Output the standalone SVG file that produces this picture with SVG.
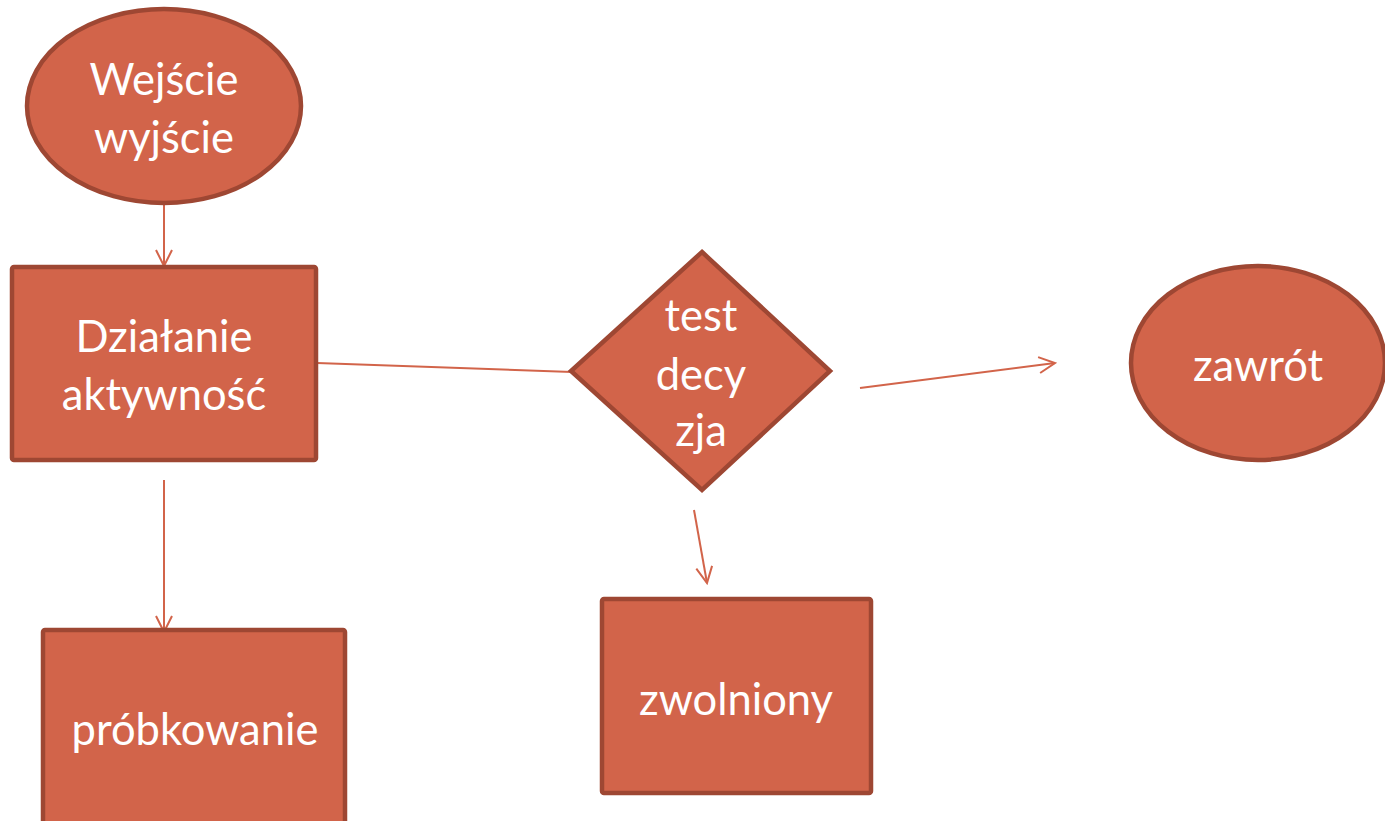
<svg xmlns="http://www.w3.org/2000/svg" width="1385" height="821" viewBox="0 0 1385 821">
<style>
.shape{fill:#d2644a;stroke:#9e4733;stroke-width:4.5}
.lbl{font-family:Lato,"Open Sans",sans-serif;font-size:43.5px;fill:#ffffff;text-anchor:middle}
.conn{stroke:#d2644a;stroke-width:2;fill:none}
</style>
<defs>
<marker id="arr" viewBox="0 0 20 20" refX="18" refY="10" markerWidth="20" markerHeight="20" markerUnits="userSpaceOnUse" orient="auto">
<path d="M2,2 L18,10 L2,18" fill="none" stroke="#d2644a" stroke-width="2"/>
</marker>
</defs>
<rect width="1385" height="821" fill="#ffffff"/>
<g id="connectors">
<line class="conn" x1="164" y1="204" x2="164" y2="266" marker-end="url(#arr)"/>
<line class="conn" x1="164" y1="480" x2="164" y2="632" marker-end="url(#arr)"/>
<line class="conn" x1="317" y1="363" x2="572" y2="372"/>
<line class="conn" x1="860" y1="388" x2="1055" y2="363" marker-end="url(#arr)"/>
<line class="conn" x1="694" y1="510" x2="707" y2="583" marker-end="url(#arr)"/>
</g>
<g id="node-wejscie">
<ellipse class="shape" cx="164" cy="106" rx="137" ry="97"/>
<text class="lbl" x="164" y="95">Wejście</text>
<text class="lbl" x="164" y="153">wyjście</text>
</g>
<g id="node-dzialanie">
<rect class="shape" x="12" y="267" width="304" height="193" rx="2"/>
<text class="lbl" x="164" y="352">Działanie</text>
<text class="lbl" x="164" y="410">aktywność</text>
</g>
<g id="node-test">
<polygon class="shape" points="702,252 830,371 702,490 571,371"/>
<text class="lbl" x="701" y="331">test</text>
<text class="lbl" x="701" y="390">decy</text>
<text class="lbl" x="701" y="446">zja</text>
</g>
<g id="node-zawrot">
<ellipse class="shape" cx="1258" cy="363" rx="127" ry="97"/>
<text class="lbl" x="1258" y="381">zawrót</text>
</g>
<g id="node-zwolniony">
<rect class="shape" x="602" y="599" width="269" height="194" rx="2"/>
<text class="lbl" x="736" y="715">zwolniony</text>
</g>
<g id="node-probkowanie">
<rect class="shape" x="43" y="630" width="302" height="200" rx="2"/>
<text class="lbl" x="195" y="745">próbkowanie</text>
</g>
</svg>
